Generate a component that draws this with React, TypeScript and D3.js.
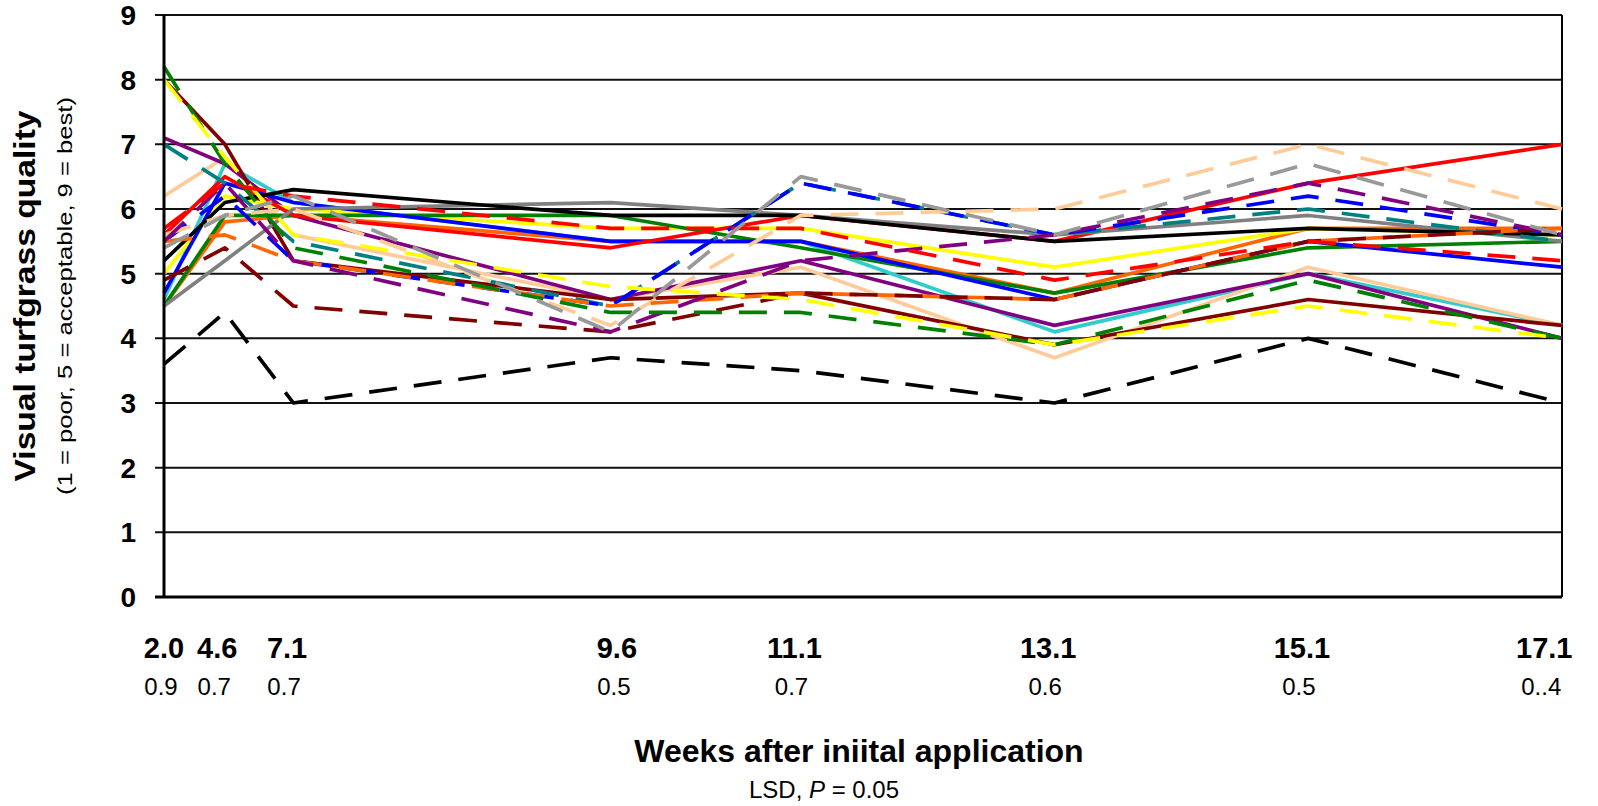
import React, { useRef, useEffect } from 'react';
import * as d3 from 'd3';

// sampling dates (weeks after initial application) and LSD (P = 0.05) under each
const weekLabels = ['2.0', '4.6', '7.1', '9.6', '11.1', '13.1', '15.1', '17.1'];
const lsdLabels = ['0.9', '0.7', '0.7', '0.5', '0.7', '0.6', '0.5', '0..4'];
// where the dates sit on the original axis (first two dates are squeezed together)
const axisPos = [6.08, 6.56, 7.1, 9.6, 11.1, 13.1, 15.1, 17.1];
// where the hand-placed label boxes sit, same axis units
const labelPos = [6.08, 6.5, 7.05, 9.65, 11.05, 13.05, 15.05, 16.96];
const yTicks = [0, 1, 2, 3, 4, 5, 6, 7, 8, 9];

// quality ratings per treatment
const blackSolid = [5.2, 6.1, 6.3, 5.9, 5.9, 5.5, 5.7, 5.6];
const graySolid = [4.5, 5.2, 6.0, 6.1, 5.9, 5.6, 5.9, 5.5];
const redSolid = [5.6, 6.5, 5.9, 5.4, 5.9, 5.5, 6.4, 7.0];
const blueSolid = [4.7, 6.4, 6.1, 5.5, 5.5, 4.6, 5.5, 5.1];
const greenSolid = [4.5, 5.9, 5.9, 5.9, 5.4, 4.7, 5.4, 5.5];
const yellowSolid = [5.0, 6.2, 6.0, 5.7, 5.7, 5.1, 5.7, 5.6];
const orangeSolid = [4.5, 5.8, 5.9, 5.5, 5.5, 4.7, 5.7, 5.7];
const cyanSolid = [4.6, 6.7, 6.1, 5.5, 5.5, 4.1, 5.0, 4.2];
const purpleSolid = [7.1, 6.7, 5.9, 4.6, 5.2, 4.2, 5.0, 4.0];
const peachSolid = [6.2, 6.8, 5.6, 4.6, 5.1, 3.7, 5.1, 4.2];
const maroonSolid = [8.0, 7.0, 5.2, 4.6, 4.7, 3.9, 4.6, 4.2];

const blackDashed = [3.6, 4.4, 3.0, 3.7, 3.5, 3.0, 4.0, 3.0];
const grayDashed = [5.4, 5.9, 6.2, 4.1, 6.5, 5.6, 6.7, 5.6];
const redDashed = [5.7, 6.4, 6.2, 5.7, 5.7, 4.9, 5.5, 5.2];
const blueDashed = [5.5, 6.2, 5.2, 4.5, 6.4, 5.6, 6.2, 5.6];
const greenDashed = [8.2, 6.7, 5.4, 4.4, 4.4, 3.9, 4.9, 4.0];
const yellowDashed = [8.0, 6.8, 5.6, 4.8, 4.6, 3.9, 4.5, 4.0];
const orangeDashed = [5.5, 5.6, 5.2, 4.5, 4.7, 4.6, 5.5, 5.7];
const tealDashed = [7.0, 6.4, 5.5, 4.5, 6.4, 5.6, 6.0, 5.5];
const purpleDashed = [5.5, 6.4, 5.2, 4.1, 5.2, 5.6, 6.4, 5.6];
const peachDashed = [5.6, 5.9, 6.0, 4.2, 5.9, 6.0, 7.0, 6.0];
const maroonDashed = [4.9, 5.4, 4.5, 4.1, 4.7, 4.6, 5.5, 5.7];

const series = [
  { values: cyanSolid, color: '#33CCCC', dashed: false },
  { values: peachSolid, color: '#FFCC99', dashed: false },
  { values: purpleSolid, color: '#800080', dashed: false },
  { values: maroonSolid, color: '#800000', dashed: false },
  { values: orangeSolid, color: '#FF6600', dashed: false },
  { values: yellowSolid, color: '#FFFF00', dashed: false },
  { values: greenSolid, color: '#008000', dashed: false },
  { values: blueSolid, color: '#0000FF', dashed: false },
  { values: redSolid, color: '#FF0000', dashed: false },
  { values: graySolid, color: '#808080', dashed: false },
  { values: blackSolid, color: '#000000', dashed: false },
  { values: tealDashed, color: '#008080', dashed: true },
  { values: blueDashed, color: '#0000FF', dashed: true },
  { values: peachDashed, color: '#FFCC99', dashed: true },
  { values: orangeDashed, color: '#FF6600', dashed: true },
  { values: maroonDashed, color: '#800000', dashed: true },
  { values: purpleDashed, color: '#800080', dashed: true },
  { values: greenDashed, color: '#008000', dashed: true },
  { values: yellowDashed, color: '#FFFF00', dashed: true },
  { values: redDashed, color: '#FF0000', dashed: true },
  { values: grayDashed, color: '#999999', dashed: true },
  { values: blackDashed, color: '#000000', dashed: true },
];

const FONT = '"Liberation Sans", Arial, sans-serif';

function TurfChart() {
  const chartRef = useRef<SVGSVGElement>(null);

  useEffect(() => {
    drawChart();
  }, []);

  const drawChart = () => {
    const svgWidth = 1598;
    const svgHeight = 806;
    const margin = { top: 15, right: 36, bottom: 209, left: 164 };
    const width = svgWidth - margin.left - margin.right;
    const height = svgHeight - margin.top - margin.bottom;

    d3.select(chartRef.current).selectAll('*').remove();

    const root = d3.select(chartRef.current)
      .attr('width', svgWidth)
      .attr('height', svgHeight);

    const svg = root.append('g')
      .attr('transform', `translate(${margin.left},${margin.top})`);

    const xScale = d3.scaleLinear()
      .domain([axisPos[0], axisPos[axisPos.length - 1]])
      .range([0, width]);

    const yScale = d3.scaleLinear()
      .domain([0, 9])
      .range([height, 0]);

    // gridlines + tick marks
    svg.selectAll('.grid')
      .data(yTicks.filter(d => d > 0))
      .enter().append('line')
      .attr('x1', -9)
      .attr('x2', width)
      .attr('y1', d => yScale(d))
      .attr('y2', d => yScale(d))
      .attr('stroke', '#111')
      .attr('stroke-width', 2);

    svg.append('line')
      .attr('x1', width).attr('x2', width)
      .attr('y1', 0).attr('y2', height)
      .attr('stroke', '#000')
      .attr('stroke-width', 2);

    svg.selectAll('.ylab')
      .data(yTicks)
      .enter().append('text')
      .attr('x', -28)
      .attr('y', d => yScale(d) + 10)
      .attr('text-anchor', 'end')
      .attr('font-family', FONT)
      .attr('font-weight', 'bold')
      .attr('font-size', 28)
      .text(d => d);

    const line = d3.line<number>()
      .x((d, i) => xScale(axisPos[i]))
      .y(d => yScale(d));

    series.forEach(s => {
      svg.append('path')
        .datum(s.values)
        .attr('fill', 'none')
        .attr('stroke', s.color)
        .attr('stroke-width', 3.7)
        .attr('stroke-linejoin', 'round')
        .attr('stroke-dasharray', s.dashed ? '28,17' : null)
        .attr('d', line);
    });

    // axis lines on top
    svg.append('line')
      .attr('x1', -9).attr('x2', width)
      .attr('y1', height).attr('y2', height)
      .attr('stroke', '#000')
      .attr('stroke-width', 3);

    svg.append('line')
      .attr('x1', 0).attr('x2', 0)
      .attr('y1', 0).attr('y2', height)
      .attr('stroke', '#000')
      .attr('stroke-width', 3);

    // x labels: week + LSD
    svg.selectAll('.xlab')
      .data(weekLabels)
      .enter().append('text')
      .attr('x', (d, i) => xScale(labelPos[i]))
      .attr('y', height + 61)
      .attr('text-anchor', 'middle')
      .attr('font-family', FONT)
      .attr('font-weight', 'bold')
      .attr('font-size', 29)
      .text(d => d);

    svg.selectAll('.lsd')
      .data(lsdLabels)
      .enter().append('text')
      .attr('x', (d, i) => xScale(labelPos[i]) - 3)
      .attr('y', height + 98)
      .attr('text-anchor', 'middle')
      .attr('font-family', FONT)
      .attr('font-size', 24)
      .text(d => d);

    root.append('text')
      .attr('x', 859)
      .attr('y', 762)
      .attr('text-anchor', 'middle')
      .attr('font-family', FONT)
      .attr('font-weight', 'bold')
      .attr('font-size', 32)
      .text('Weeks after iniital application');

    const cap = root.append('text')
      .attr('x', 824)
      .attr('y', 798)
      .attr('text-anchor', 'middle')
      .attr('font-family', FONT)
      .attr('font-size', 24);
    cap.append('tspan').text('LSD, ');
    cap.append('tspan').attr('font-style', 'italic').text('P');
    cap.append('tspan').text(' = 0.05');

    root.append('text')
      .attr('transform', 'translate(35,296) rotate(-90)')
      .attr('text-anchor', 'middle')
      .attr('font-family', FONT)
      .attr('font-weight', 'bold')
      .attr('font-size', 30)
      .attr('textLength', 371)
      .attr('lengthAdjust', 'spacingAndGlyphs')
      .text('Visual turfgrass quality');

    root.append('text')
      .attr('transform', 'translate(72,296) rotate(-90)')
      .attr('text-anchor', 'middle')
      .attr('font-family', FONT)
      .attr('font-size', 20)
      .attr('textLength', 398)
      .attr('lengthAdjust', 'spacingAndGlyphs')
      .text('(1 = poor, 5 = acceptable, 9 = best)');
  };

  return (
    <svg ref={chartRef} style={{ position: 'absolute', left: 0, top: 0 }}></svg>
  );
}

export default function App() {
  return <TurfChart />;
}
